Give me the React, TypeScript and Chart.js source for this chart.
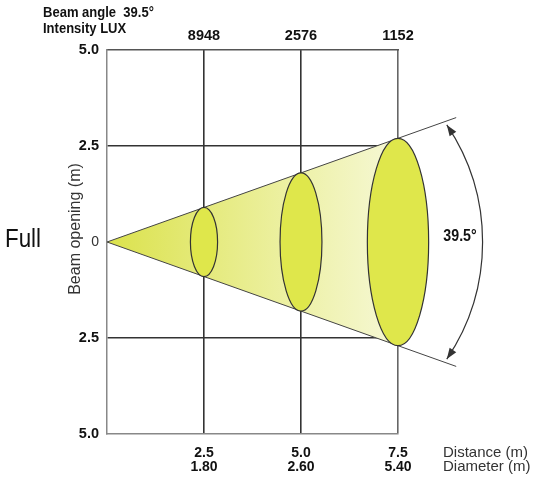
import React, { useEffect, useRef } from "react";
import { Chart, registerables } from "chart.js";

Chart.register(...registerables);

// ---- data ----
const DISTANCES = [2.5, 5.0, 7.5];
const DISTANCE_LABELS = ["2.5", "5.0", "7.5"];
const DIAMETER_LABELS = ["1.80", "2.60", "5.40"];
const LUX_LABELS = ["8948", "2576", "1152"];
const HALF_OPENING = [0.9, 1.8, 2.7];
const SPOT_DEPTH = [0.35, 0.54, 0.79];
const CONE_X = [0, 9];
const CONE_UPPER = [0, 3.24];
const CONE_LOWER = [0, -3.24];
const Y_TICKS = [-5, -2.5, 0, 2.5, 5];
const Y_LABELS = ["5.0", "2.5", "0", "2.5", "5.0"];
const BEAM_ANGLE = "39.5°";
const ARC_CENTER_X = 4.28;
const ARC_RADIUS_X = 5.4;
const ARC_END_Y = 3.05;

const BOLD = "'Liberation Sans', Arial, sans-serif";
const SANS = "'Liberation Sans', Arial, sans-serif";

const overlayPlugin = {
  id: "beamOverlay",
  afterDatasetsDraw(chart: any) {
    const { ctx } = chart;
    const x = chart.scales.x;
    const y = chart.scales.y;
    const y0 = y.getPixelForValue(0);
    ctx.save();
    for (let i = 0; i < DISTANCES.length; i++) {
      const cx = x.getPixelForValue(DISTANCES[i]);
      const rx = x.getPixelForValue(DISTANCES[i] + SPOT_DEPTH[i]) - cx;
      const ry = y0 - y.getPixelForValue(HALF_OPENING[i]);
      ctx.beginPath();
      ctx.ellipse(cx, y0, rx, ry, 0, 0, Math.PI * 2);
      ctx.fillStyle = "#dfe74b";
      ctx.fill();
      ctx.lineWidth = 1.2;
      ctx.strokeStyle = "#333";
      ctx.stroke();
    }
    ctx.restore();
  },
  afterDraw(chart: any) {
    const { ctx } = chart;
    const x = chart.scales.x;
    const y = chart.scales.y;
    ctx.save();
    // header (condensed look)
    ctx.fillStyle = "#111";
    ctx.textAlign = "left";
    ctx.textBaseline = "alphabetic";
    ctx.save();
    ctx.translate(43, 17);
    ctx.scale(0.84, 1);
    ctx.font = `bold 15.5px ${BOLD}`;
    ctx.fillText("Beam angle  " + BEAM_ANGLE, 0, 0);
    ctx.fillText("Intensity LUX", 0, 16);
    ctx.restore();
    // Full (condensed look)
    ctx.save();
    ctx.translate(5, 247);
    ctx.scale(0.86, 1);
    ctx.font = `normal 26px ${SANS}`;
    ctx.fillText("Full", 0, 0);
    ctx.restore();
    // y title
    ctx.save();
    ctx.translate(76, 229);
    ctx.rotate(-Math.PI / 2);
    ctx.textAlign = "center";
    ctx.textBaseline = "middle";
    ctx.fillStyle = "#333";
    ctx.font = `normal 16px ${SANS}`;
    ctx.fillText("Beam opening (m)", 0, 0);
    ctx.restore();
    // x titles
    ctx.fillStyle = "#333";
    ctx.textBaseline = "middle";
    ctx.font = `normal 15px ${SANS}`;
    ctx.fillText("Distance (m)", 443, 453);
    ctx.fillText("Diameter (m)", 443, 467);
    // arc
    const cx = x.getPixelForValue(ARC_CENTER_X);
    const cy = y.getPixelForValue(0);
    const r = x.getPixelForValue(ARC_CENTER_X + ARC_RADIUS_X) - cx;
    const dy = cy - y.getPixelForValue(ARC_END_Y);
    const a = Math.asin(dy / r);
    ctx.beginPath();
    ctx.arc(cx, cy, r, -a, a);
    ctx.lineWidth = 1.2;
    ctx.strokeStyle = "#333";
    ctx.stroke();
    const arrow = (ang: number, dir: number) => {
      const px = cx + r * Math.cos(ang);
      const py = cy + r * Math.sin(ang);
      const tx = -Math.sin(ang) * dir;
      const ty = Math.cos(ang) * dir;
      const len = 11, w = 4;
      const bx = px - tx * len, by = py - ty * len;
      ctx.beginPath();
      ctx.moveTo(px, py);
      ctx.lineTo(bx - ty * w, by + tx * w);
      ctx.lineTo(bx + ty * w, by - tx * w);
      ctx.closePath();
      ctx.fillStyle = "#333";
      ctx.fill();
    };
    arrow(-a, -1);
    arrow(a, 1);
    ctx.fillStyle = "#111";
    ctx.textAlign = "center";
    ctx.textBaseline = "middle";
    ctx.save();
    ctx.translate(460, 236);
    ctx.scale(0.86, 1);
    ctx.font = `bold 16.5px ${BOLD}`;
    ctx.fillText(BEAM_ANGLE, 0, 0);
    ctx.restore();
    ctx.restore();
  },
};

export default function App() {
  const ref = useRef<HTMLCanvasElement | null>(null);
  useEffect(() => {
    if (!ref.current) return;
    const coneFill = (c: any) => {
      const chart = c.chart;
      const area = chart.chartArea;
      const xs = chart.scales.x;
      if (!area || !xs) return "#e8ec8a";
      const g = chart.ctx.createLinearGradient(
        xs.getPixelForValue(CONE_X[0]), 0,
        xs.getPixelForValue(CONE_X[1]), 0
      );
      g.addColorStop(0, "#dbe24c");
      g.addColorStop(0.5, "#ecf0a0");
      g.addColorStop(0.8, "#f5f7d0");
      g.addColorStop(1, "#fefff4");
      return g;
    };
    const chart = new Chart(ref.current, {
      type: "line",
      data: {
        datasets: [
          {
            data: CONE_X.map((v, i) => ({ x: v, y: CONE_UPPER[i] })),
            borderColor: "#444",
            borderWidth: 1,
            pointRadius: 0,
            fill: "+1",
            backgroundColor: coneFill,
            clip: false as any,
          },
          {
            data: CONE_X.map((v, i) => ({ x: v, y: CONE_LOWER[i] })),
            borderColor: "#444",
            borderWidth: 1,
            pointRadius: 0,
            fill: false,
            clip: false as any,
          },
        ],
      },
      options: {
        animation: false,
        responsive: false,
        events: [],
        layout: { padding: { left: 0, right: 136, top: 0, bottom: 0 } },
        plugins: {
          legend: { display: false },
          tooltip: { enabled: false },
          filler: { propagate: false, drawTime: "beforeDatasetsDraw" } as any,
        },
        scales: {
          x: {
            type: "linear",
            position: "bottom",
            min: 0,
            max: 7.5,
            afterBuildTicks: (s: any) => {
              s.ticks = [0, ...DISTANCES].map((v) => ({ value: v }));
            },
            afterFit: (s: any) => {
              s.height = 48;
            },
            ticks: {
              autoSkip: false,
              maxRotation: 0,
              padding: 12,
              color: "#111",
              font: { family: BOLD, size: 14, weight: "bold", lineHeight: 1 },
              callback: (_v: any, i: number) =>
                i === 0 ? "" : [DISTANCE_LABELS[i - 1], DIAMETER_LABELS[i - 1]],
            },
            grid: {
              drawTicks: false,
              lineWidth: 1.6,
              color: (c: any) =>
                c.tick && c.tick.value === 0
                  ? "rgba(0,0,0,0)"
                  : c.tick && c.tick.value === 7.5
                  ? "#666"
                  : "#333",
            },
            border: { display: true, color: "#888", width: 1.5 },
          },
          xTop: {
            type: "linear",
            position: "top",
            min: 0,
            max: 7.5,
            afterBuildTicks: (s: any) => {
              s.ticks = [0, ...DISTANCES].map((v) => ({ value: v }));
            },
            afterFit: (s: any) => {
              s.height = 50;
            },
            ticks: {
              autoSkip: false,
              maxRotation: 0,
              padding: 5,
              color: "#111",
              font: { family: BOLD, size: 14.5, weight: "bold" },
              callback: (_v: any, i: number) => (i === 0 ? "" : LUX_LABELS[i - 1]),
            },
            grid: { display: false, drawTicks: false },
            border: { display: true, color: "#555", width: 1.5 },
          },
          y: {
            type: "linear",
            position: "left",
            min: -5,
            max: 5,
            afterBuildTicks: (s: any) => {
              s.ticks = Y_TICKS.map((v) => ({ value: v }));
            },
            afterFit: (s: any) => {
              s.width = 107;
            },
            ticks: {
              autoSkip: false,
              padding: 8,
              color: (c: any) => (c.tick && c.tick.value === 0 ? "#333" : "#111"),
              font: (c: any) =>
                c.tick && c.tick.value === 0
                  ? { family: SANS, size: 14, weight: "normal" }
                  : { family: BOLD, size: 14.5, weight: "bold" },
              callback: (_v: any, i: number) => Y_LABELS[i],
            },
            grid: {
              drawTicks: false,
              lineWidth: 1.6,
              color: (c: any) =>
                c.tick && Math.abs(c.tick.value) === 2.5 ? "#333" : "rgba(0,0,0,0)",
            },
            border: { display: true, color: "#888", width: 1.5 },
          },
        },
      },
      plugins: [overlayPlugin],
    } as any);
    return () => chart.destroy();
  }, []);
  return (
    <div style={{ position: "fixed", left: 0, top: 0, width: 534, height: 482, background: "#fff" }}>
      <canvas ref={ref} width={534} height={482} style={{ display: "block" }} />
    </div>
  );
}
